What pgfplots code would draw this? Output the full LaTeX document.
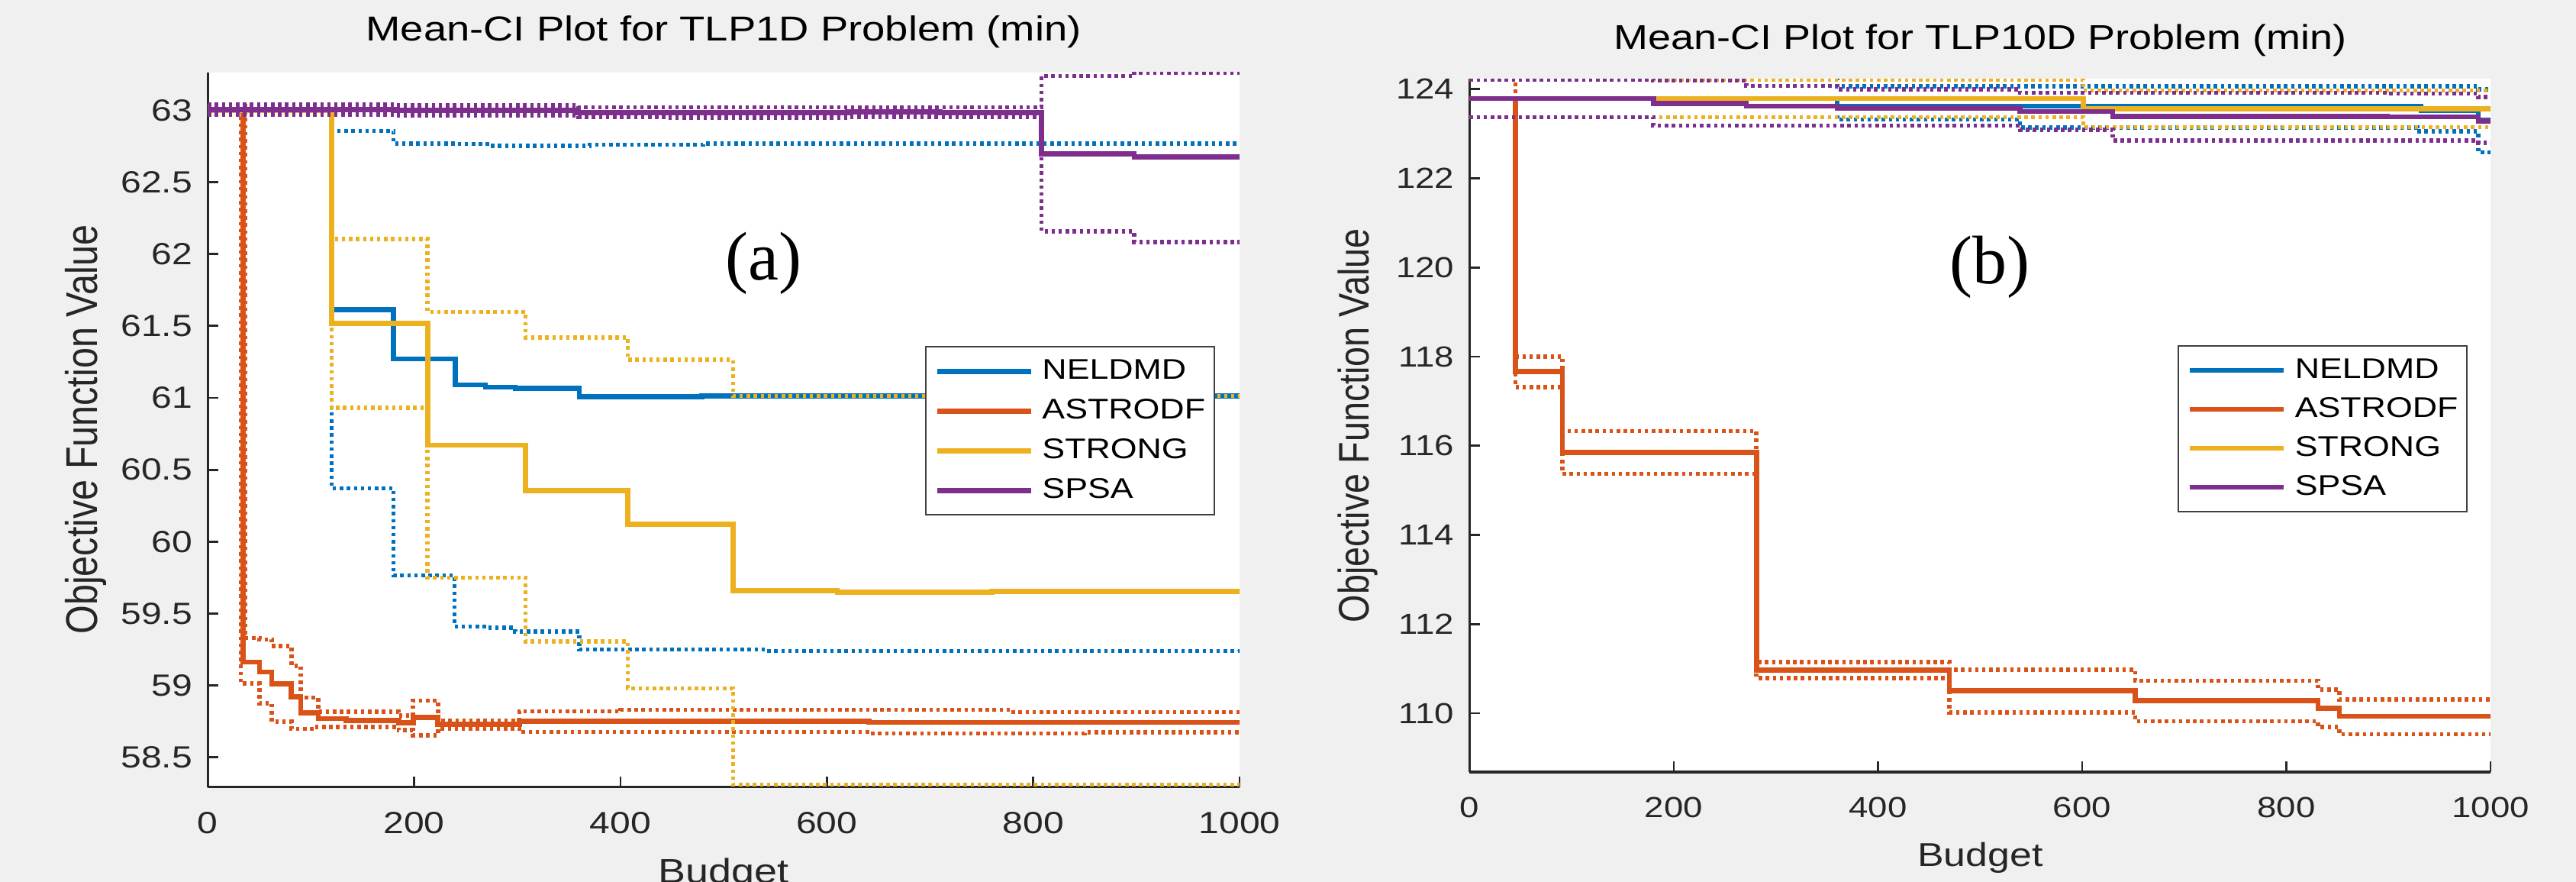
\documentclass[border=0pt]{standalone}
\usepackage{fontspec}
\setmainfont{Liberation Sans}[FakeStretch=1.2]
\newfontfamily\plainsans{Liberation Sans}
\newfontfamily\labelserif{Liberation Serif}
\usepackage{graphicx}
\usepackage{pgfplots}
\pgfplotsset{compat=1.18}

\definecolor{cBlue}{HTML}{0072BD}
\definecolor{cOrange}{HTML}{D95319}
\definecolor{cYellow}{HTML}{EDB120}
\definecolor{cPurple}{HTML}{7E2F8E}
\definecolor{axgray}{HTML}{262626}
\definecolor{figbg}{HTML}{F0F0F0}

\pgfplotsset{
  meanci/.style={
    scale only axis,
    anchor=south west,
    axis x line=bottom, axis y line=left,
    axis line style={-, line width=0.9pt, draw=axgray},
    tick style={line width=0.8pt, draw=axgray},
    tick align=inside, major tick length=1.4mm,
    axis background/.style={fill=white},
    xmin=0, xmax=1000, xtick={0,200,400,600,800,1000},
    /pgf/number format/1000 sep={},
    /pgf/number format/assume math mode=true,
    xticklabel style={text=axgray, inner sep=0pt, anchor=north, yshift=-3.2mm},
    yticklabel style={text=axgray, inner sep=0pt, anchor=east, xshift=-1.95mm},
    title style={anchor=base, inner sep=0pt, text=black},
    xlabel style={anchor=base, inner sep=0pt, text=axgray},
    ylabel style={anchor=center, inner sep=0pt, text=axgray},
    xlabel={Budget},
    ylabel={\scalebox{1}[1.2]{\plainsans Objective Function Value}},
    legend cell align=left,
    legend image code/.code={\draw[#1, solid] (0mm,0mm) -- (12.3mm,0mm);},
  },
  meanline/.style={const plot, line width=1.9pt, draw=#1},
  ciline/.style={const plot, line width=1.6pt, draw=#1, dash pattern=on 0.45mm off 0.47mm, forget plot},
}

\begin{document}
\begin{tikzpicture}
\useasboundingbox (0,0) rectangle (337.5mm,115.5mm);
\clip (0,0) rectangle (337.5mm,115.5mm);
\fill[figbg] (0,0) rectangle (337.5mm,115.5mm);

% ---------------- (a) TLP1D ----------------
\begin{axis}[meanci,
  at={(27.23mm,12.43mm)}, width=135.17mm, height=93.6mm,
  ymin=58.293, ymax=63.264,
  ytick={58.5,59,59.5,60,60.5,61,61.5,62,62.5,63},
  tick label style={font=\fontsize{11.4pt}{13pt}\selectfont},
  title={Mean-CI Plot for TLP1D Problem (min)},
  title style={at={(axis description cs:0.5,1.0215)}, font=\fontsize{12.9pt}{15pt}\selectfont},
  xlabel style={at={(axis description cs:0.5,-0.1339)}, font=\fontsize{12.8pt}{15pt}\selectfont},
  ylabel style={at={(axis description cs:-0.1184,0.5)}, font=\fontsize{13.8pt}{16pt}\selectfont},
  legend style={at={(0.695,0.617)}, anchor=north west, draw=black!75, line width=0.6pt,
    fill=white, inner xsep=1.2mm, inner ysep=1.25mm, row sep=1.3mm, column sep=1.1mm,
    font=\fontsize{10.6pt}{12pt}\selectfont,
    nodes={inner sep=0pt, text height=3.0mm, text depth=0.9mm}},
]
% NELDMD
\addplot[meanline=cBlue] coordinates {(0,63.0) (120,61.614) (180,61.27) (240,61.09) (269,61.075) (298,61.065) (360,61.008) (479,61.015) (1000,61.015)};
\addlegendentry{NELDMD}
\addplot[ciline=cBlue] coordinates {(0,63.03) (120,62.856) (180,62.77) (240,62.765) (271,62.752) (370,62.76) (480,62.768) (1000,62.768)};
\addplot[ciline=cBlue] coordinates {(0,62.97) (120,60.37) (180,59.765) (239,59.41) (270,59.40) (298,59.374) (360,59.25) (542,59.24) (1000,59.245)};
% ASTRODF
\addplot[meanline=cOrange] coordinates {(0,63.0) (34,59.163) (50,59.093) (62,59.01) (81,58.92) (90,58.81) (107,58.769) (134,58.757) (185,58.739) (199,58.778) (223,58.73) (302,58.75) (641,58.743) (1000,58.74)};
\addlegendentry{ASTRODF}
\addplot[ciline=cOrange] coordinates {(0,63.03) (36,59.33) (50,59.32) (62,59.274) (81,59.137) (90,58.916) (107,58.818) (185,58.79) (199,58.895) (223,58.757) (302,58.82) (400,58.83) (778,58.815) (1000,58.815)};
\addplot[ciline=cOrange] coordinates {(0,62.97) (32,59.013) (50,58.875) (62,58.748) (81,58.698) (104,58.712) (185,58.689) (199,58.654) (223,58.70) (302,58.677) (641,58.665) (850,58.673) (1000,58.67)};
% STRONG
\addplot[meanline=cYellow] coordinates {(0,63.0) (120,61.517) (213,60.67) (308,60.356) (407,60.12) (509,59.66) (610,59.65) (760,59.655) (1000,59.66)};
\addlegendentry{STRONG}
\addplot[ciline=cYellow] coordinates {(0,63.03) (120,62.106) (213,61.597) (308,61.42) (407,61.265) (509,61.013) (1000,61.02)};
\addplot[ciline=cYellow] coordinates {(0,62.97) (120,60.93) (213,59.749) (308,59.305) (407,58.98) (509,58.31) (1000,58.30)};
% SPSA
\addplot[meanline=cPurple] coordinates {(0,63.005) (181,62.998) (359,62.985) (530,62.985) (620,62.99) (710,62.985) (808,62.698) (898,62.675) (1000,62.675)};
\addlegendentry{SPSA}
\addplot[ciline=cPurple] coordinates {(0,63.04) (181,63.035) (359,63.02) (808,63.238) (898,63.263) (1000,63.263)};
\addplot[ciline=cPurple] coordinates {(0,62.97) (181,62.965) (359,62.955) (445,62.95) (620,62.955) (808,62.157) (898,62.083) (1000,62.083)};
\node[font=\labelserif\fontsize{25.6pt}{30pt}\selectfont, inner sep=0pt] at (axis description cs:0.539,0.7326) {(a)};
\end{axis}

% ---------------- (b) TLP10D ----------------
\begin{axis}[meanci,
  at={(192.54mm,14.4mm)}, width=133.76mm, height=90.77mm,
  ymin=108.68, ymax=124.23,
  ytick={110,112,114,116,118,120,122,124},
  tick label style={font=\fontsize{10.8pt}{13pt}\selectfont},
  title={Mean-CI Plot for TLP10D Problem (min)},
  title style={at={(axis description cs:0.5,1.019)}, font=\fontsize{12.8pt}{15pt}\selectfont},
  xlabel style={at={(axis description cs:0.5,-0.1361)}, font=\fontsize{12.3pt}{15pt}\selectfont},
  ylabel style={at={(axis description cs:-0.1095,0.5)}, font=\fontsize{13.3pt}{16pt}\selectfont},
  legend style={at={(0.6935,0.616)}, anchor=north west, draw=black!75, line width=0.6pt,
    fill=white, inner xsep=1.2mm, inner ysep=1.25mm, row sep=1.2mm, column sep=1.1mm,
    font=\fontsize{10.6pt}{12pt}\selectfont,
    nodes={inner sep=0pt, text height=3.0mm, text depth=0.9mm}},
]
% NELDMD
\addplot[meanline=cBlue] coordinates {(0,123.79) (360,123.62) (932,123.52) (988,123.3) (1000,123.3)};
\addlegendentry{NELDMD}
\addplot[ciline=cBlue] coordinates {(0,124.22) (360,124.06) (988,124.0) (1000,124.0)};
\addplot[ciline=cBlue] coordinates {(0,123.37) (360,123.32) (539,123.14) (928,123.05) (988,122.58) (1000,122.58)};
% ASTRODF
\addplot[meanline=cOrange] coordinates {(0,123.79) (45,117.66) (91,115.85) (281,110.97) (470,110.51) (652,110.28) (831,110.11) (852,109.93) (1000,109.93)};
\addlegendentry{ASTRODF}
\addplot[ciline=cOrange] coordinates {(0,124.22) (45,118.0) (91,116.33) (281,111.15) (470,110.98) (652,110.73) (831,110.53) (852,110.31) (1000,110.31)};
\addplot[ciline=cOrange] coordinates {(0,123.37) (45,117.31) (91,115.37) (281,110.79) (470,110.02) (652,109.82) (831,109.69) (852,109.53) (1000,109.53)};
% STRONG
\addplot[meanline=cYellow] coordinates {(0,123.79) (601,123.56) (1000,123.56)};
\addlegendentry{STRONG}
\addplot[ciline=cYellow] coordinates {(0,124.22) (601,123.97) (1000,123.97)};
\addplot[ciline=cYellow] coordinates {(0,123.37) (601,123.15) (1000,123.15)};
% SPSA
\addplot[meanline=cPurple] coordinates {(0,123.79) (180,123.675) (271,123.62) (360,123.575) (539,123.5) (630,123.385) (899,123.38) (988,123.28) (1000,123.28)};
\addlegendentry{SPSA}
\addplot[ciline=cPurple] coordinates {(0,124.22) (180,124.19) (271,124.075) (360,124.0) (539,123.915) (900,123.9) (988,123.82) (1000,123.82)};
\addplot[ciline=cPurple] coordinates {(0,123.37) (180,123.18) (539,123.09) (630,122.85) (988,122.8) (1000,122.8)};
\node[font=\labelserif\fontsize{25.6pt}{30pt}\selectfont, inner sep=0pt] at (axis description cs:0.5096,0.728) {(b)};
\end{axis}
\end{tikzpicture}
\end{document}
